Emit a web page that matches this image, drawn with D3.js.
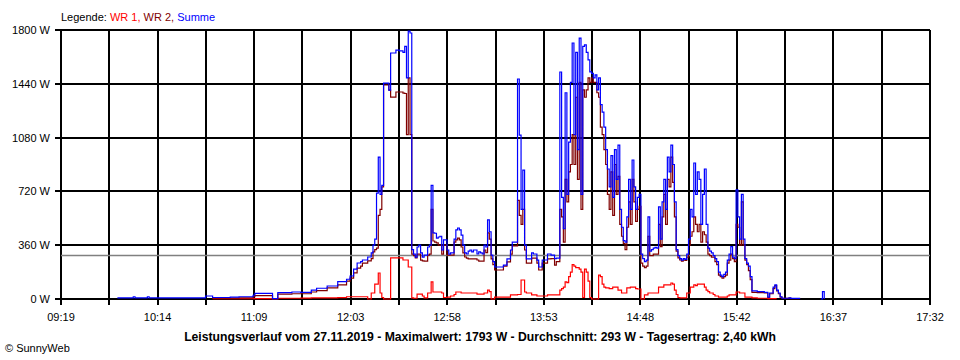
<!DOCTYPE html>
<html>
<head>
<meta charset="utf-8">
<title>Leistungsverlauf</title>
<script src="https://d3js.org/d3.v7.min.js"></script>
<style>
    body { margin: 0; background: #fff; }
    text { font-family: "Liberation Sans", Arial, sans-serif; }
</style>
</head>
<body>
<div id="chart"></div>
<script>
(function () {
    'use strict';

    // readings from the SunnyWeb day chart, one row per change
    var times = [
        '09:51', '10:00', '10:01', '10:08', '10:09', '10:41', '10:45', '10:55', '11:00', '11:08',
        '11:09', '11:19', '11:22', '11:30', '11:35', '11:41', '11:44', '11:50', '11:56', '12:01',
        '12:03', '12:05', '12:07', '12:09', '12:10', '12:13', '12:15', '12:16', '12:17', '12:18',
        '12:19', '12:20', '12:21', '12:22', '12:25', '12:26', '12:29', '12:31', '12:33', '12:34',
        '12:35', '12:36', '12:37', '12:38', '12:39', '12:40', '12:41', '12:42', '12:43', '12:44',
        '12:45', '12:47', '12:48', '12:49', '12:50', '12:51', '12:52', '12:53', '12:54', '12:55',
        '12:56', '12:58', '12:59', '13:00', '13:02', '13:03', '13:04', '13:05', '13:06', '13:07',
        '13:08', '13:09', '13:10', '13:11', '13:12', '13:13', '13:15', '13:16', '13:17', '13:18',
        '13:19', '13:20', '13:21', '13:22', '13:23', '13:24', '13:25', '13:30', '13:32', '13:34',
        '13:35', '13:38', '13:39', '13:40', '13:41', '13:42', '13:43', '13:46', '13:47', '13:49',
        '13:50', '13:52', '13:55', '13:57', '13:59', '14:00', '14:02', '14:03', '14:04', '14:05',
        '14:06', '14:07', '14:08', '14:09', '14:10', '14:11', '14:12', '14:13', '14:14', '14:15',
        '14:16', '14:17', '14:18', '14:19', '14:20', '14:21', '14:22', '14:23', '14:24', '14:25',
        '14:26', '14:27', '14:28', '14:29', '14:30', '14:31', '14:32', '14:33', '14:34', '14:35',
        '14:36', '14:37', '14:38', '14:39', '14:40', '14:41', '14:42', '14:43', '14:44', '14:45',
        '14:46', '14:47', '14:48', '14:49', '14:50', '14:51', '14:52', '14:53', '14:54', '14:55',
        '14:56', '14:57', '14:58', '14:59', '15:00', '15:01', '15:02', '15:03', '15:04', '15:05',
        '15:06', '15:07', '15:08', '15:09', '15:10', '15:11', '15:12', '15:13', '15:14', '15:15',
        '15:16', '15:17', '15:18', '15:19', '15:20', '15:21', '15:22', '15:23', '15:24', '15:25',
        '15:26', '15:27', '15:28', '15:29', '15:30', '15:31', '15:32', '15:33', '15:34', '15:35',
        '15:36', '15:37', '15:38', '15:39', '15:40', '15:41', '15:42', '15:43', '15:44', '15:45',
        '15:46', '15:47', '15:48', '15:49', '15:50', '15:51', '15:54', '15:58', '16:00', '16:01',
        '16:03', '16:04', '16:05', '16:06', '16:07', '16:08', '16:12', '16:13', '16:18', '16:19',
        '16:30', '16:31', '16:32'
    ];

    var summe = [
        7, 15, 7, 15, 7, 20, 10, 12, 15, 25,
        38, 3, 42, 47, 45, 60, 72, 87, 116, 132,
        154, 200, 241, 250, 261, 281, 308, 361, 400, 709,
        950, 700, 760, 1445, 1398, 1646, 1666, 1660, 1650, 1690,
        1480, 1793, 1780, 330, 300, 280, 348, 360, 308, 280,
        294, 348, 360, 760, 442, 440, 408, 415, 420, 328,
        395, 328, 300, 308, 400, 462, 475, 462, 428, 361,
        308, 301, 321, 328, 315, 328, 301, 315, 308, 301,
        361, 348, 529, 450, 294, 250, 214, 227, 268, 328,
        381, 1472, 1097, 600, 862, 361, 268, 308, 301, 260,
        214, 261, 301, 294, 270, 274, 1519, 680, 470, 1380,
        700, 1050, 1450, 1713, 1100, 1650, 1000, 1746, 700, 1690,
        1700, 1650, 1600, 1520, 1510, 1480, 1500, 1400, 1480, 1300,
        1250, 1150, 1000, 870, 750, 960, 680, 1000, 800, 1030,
        600, 480, 390, 380, 550, 800, 600, 930, 750, 600,
        680, 700, 300, 270, 250, 260, 549, 320, 330, 340,
        345, 340, 616, 400, 650, 800, 600, 950, 850, 1030,
        900, 650, 330, 290, 270, 260, 270, 265, 300, 400,
        600, 550, 910, 700, 850, 800, 500, 700, 870, 500,
        340, 320, 308, 290, 270, 250, 180, 160, 150, 165,
        180, 260, 300, 350, 280, 270, 730, 550, 400, 700,
        400, 270, 240, 220, 150, 55, 50, 45, 13, 40,
        80, 95, 60, 40, 15, 5, 8, 4, 0, null,
        0, 50, 0
    ];

    var wr2 = [
        null, null, null, null, null, null, 5, 6, 7, 15,
        22, 0, 33, 35, 35, 47, 56, 74, 94, 120,
        140, 175, 207, 220, 240, 255, 270, 316, 330, 340,
        560, 600, 750, 1432, 1398, 1351, 1385, 1385, 1378, 1375,
        1100, 1480, 1100, 300, 290, 275, 300, 300, 260, 255,
        254, 294, 300, 600, 388, 380, 375, 360, 361, 300,
        361, 294, 294, 294, 380, 395, 408, 395, 348, 308,
        281, 274, 268, 268, 268, 268, 261, 254, 254, 254,
        328, 310, 442, 400, 268, 230, 194, 220, 248, 300,
        355, 660, 560, 500, 600, 328, 240, 274, 274, 240,
        194, 240, 268, 270, 227, 250, 600, 550, 380, 800,
        650, 850, 900, 1100, 900, 1350, 800, 1450, 600, 1400,
        1350, 1400, 1480, 1450, 1480, 1450, 1450, 1380, 1350, 1150,
        1100, 1000, 900, 700, 600, 850, 560, 900, 700, 820,
        500, 420, 370, 330, 480, 650, 500, 800, 650, 520,
        600, 620, 240, 220, 210, 220, 420, 290, 290, 300,
        300, 300, 500, 350, 550, 700, 500, 800, 750, 950,
        780, 550, 320, 275, 261, 254, 261, 258, 280, 360,
        420, 450, 550, 500, 450, 500, 380, 450, 430, 380,
        300, 290, 280, 280, 250, 230, 160, 150, 140, 150,
        160, 240, 260, 300, 270, 250, 500, 480, 360, 650,
        360, 260, 230, 190, 130, 45, 42, 40, 10, 35,
        70, 90, 55, 35, 12, 4, 6, 3, 0, null,
        null, null, null
    ];

    var wr1 = [
        null, null, null, null, null, null, 3, 3, 2, 2,
        2, 0, 5, 5, 6, 7, 7, 7, 9, 15,
        15, 15, 15, 15, 15, 0, 40, 40, 100, 100,
        174, 40, 10, 0, 0, 275, 275, 275, 261, 261,
        261, 214, 214, 7, 5, 5, 33, 33, 33, 20,
        7, 40, 40, 115, 47, 47, 47, 47, 47, 40,
        10, 13, 13, 20, 30, 47, 47, 47, 40, 40,
        40, 40, 40, 40, 40, 40, 33, 33, 33, 33,
        40, 40, 60, 50, 0, 0, 13, 13, 13, 27,
        27, 30, 30, 127, 127, 47, 40, 27, 27, 20,
        20, 20, 27, 27, 27, 27, 60, 70, 80, 114,
        110, 150, 180, 230, 220, 210, 210, 200, 180, 10,
        200, 180, 120, 10, 0, 0, 0, 0, 160, 150,
        100, 80, 75, 75, 70, 70, 80, 80, 80, 60,
        60, 40, 40, 40, 74, 74, 80, 80, 80, 70,
        67, 67, 0, 0, 27, 27, 40, 40, 40, 40,
        40, 40, 80, 80, 80, 94, 94, 94, 94, 107,
        100, 60, 30, 10, 7, 7, 7, 7, 40, 40,
        80, 80, 94, 90, 100, 100, 100, 100, 80, 60,
        50, 40, 40, 30, 20, 20, 13, 13, 13, 13,
        13, 20, 27, 27, 27, 27, 47, 47, 40, 40,
        40, 13, 13, 13, 13, 7, 5, 5, 3, 3,
        2, 2, 2, null, null, null, null, null, null, null,
        null, null, null
    ];

    var tickLabels = ['09:19', '10:14', '11:09', '12:03', '12:58', '13:53', '14:48', '15:42', '16:37', '17:32'];
    var yTicks = [0, 360, 720, 1080, 1440, 1800];
    var average = 293;
    var caption = 'Leistungsverlauf vom 27.11.2019 - Maximalwert: 1793 W - Durchschnitt: 293 W - Tagesertrag: 2,40 kWh';
    var legendItems = [
        { text: 'Legende: ', color: '#000000' },
        { text: 'WR 1, ', color: '#ff0000' },
        { text: 'WR 2, ', color: '#800000' },
        { text: 'Summe', color: '#0000ff' }
    ];

    var width = 960;
    var height = 360;
    var left = 61, right = 930, top = 30, bottom = 299;

    var toMinutes = function (s) {
        var p = s.split(':');
        return (+p[0]) * 60 + (+p[1]);
    };

    var tStart = toMinutes(tickLabels[0]);
    var tEnd = toMinutes(tickLabels[tickLabels.length - 1]);

    var x = d3.scaleLinear().domain([tStart, tEnd]).range([left, right]);
    var y = d3.scaleLinear().domain([0, 1800]).range([bottom, top]);

    var svg = d3.select('#chart').append('svg')
        .attr('width', width)
        .attr('height', height)
        .style('display', 'block');

    svg.append('rect')
        .attr('width', width)
        .attr('height', height)
        .attr('fill', '#fff');

    // grid: one line every half label step
    var gridSteps = (tickLabels.length - 1) * 2;
    var gridTimes = d3.range(gridSteps + 1).map(function (i) {
        return tStart + i * (tEnd - tStart) / gridSteps;
    });

    var grid = svg.append('g')
        .attr('stroke', '#000')
        .attr('stroke-width', 2)
        .attr('shape-rendering', 'crispEdges');

    grid.selectAll('.vline')
        .data(gridTimes)
        .enter()
        .append('line')
        .attr('class', 'vline')
        .attr('x1', function (d) { return Math.round(x(d)); })
        .attr('x2', function (d) { return Math.round(x(d)); })
        .attr('y1', top)
        .attr('y2', bottom + 6);

    grid.selectAll('.hline')
        .data(yTicks)
        .enter()
        .append('line')
        .attr('class', 'hline')
        .attr('x1', left - 6)
        .attr('x2', right)
        .attr('y1', function (d) { return Math.round(y(d)); })
        .attr('y2', function (d) { return Math.round(y(d)); });

    svg.append('line')
        .attr('x1', left)
        .attr('x2', right)
        .attr('y1', Math.round(y(average)) + 0.5)
        .attr('y2', Math.round(y(average)) + 0.5)
        .attr('stroke', '#808080')
        .attr('stroke-width', 1.5);

    svg.selectAll('.ylabel')
        .data(yTicks)
        .enter()
        .append('text')
        .attr('class', 'ylabel')
        .attr('x', left - 11)
        .attr('y', function (d) { return y(d) + 4; })
        .attr('text-anchor', 'end')
        .attr('font-size', '11px')
        .text(function (d) { return d + ' W'; });

    svg.selectAll('.xlabel')
        .data(tickLabels)
        .enter()
        .append('text')
        .attr('class', 'xlabel')
        .attr('x', function (d, i) { return x(gridTimes[i * 2]); })
        .attr('y', 321)
        .attr('text-anchor', 'middle')
        .attr('font-size', '11px')
        .text(function (d) { return d; });

    var rows = times.map(function (t, i) {
        return { t: toMinutes(t), wr1: wr1[i], wr2: wr2[i], summe: summe[i] };
    });

    var series = [
        { key: 'wr1', color: '#ff0000' },
        { key: 'wr2', color: '#800000' },
        { key: 'summe', color: '#0000ff' }
    ];

    series.forEach(function (s) {
        var line = d3.line()
            .defined(function (d) { return d[s.key] != null; })
            .x(function (d) { return x(d.t); })
            .y(function (d) { return y(d[s.key]); })
            .curve(d3.curveStepAfter);

        svg.append('path')
            .datum(rows)
            .attr('fill', 'none')
            .attr('stroke', s.color)
            .attr('stroke-width', 1.2)
            .attr('d', line);
    });

    var legend = svg.append('text')
        .attr('x', left)
        .attr('y', 21)
        .attr('font-size', '11px');

    legend.selectAll('tspan')
        .data(legendItems)
        .enter()
        .append('tspan')
        .attr('fill', function (d) { return d.color; })
        .style('white-space', 'pre')
        .text(function (d) { return d.text; });

    svg.append('text')
        .attr('x', 480)
        .attr('y', 341)
        .attr('text-anchor', 'middle')
        .attr('font-size', '12.2px')
        .attr('font-weight', 'bold')
        .text(caption);

    svg.append('text')
        .attr('x', 5)
        .attr('y', 352)
        .attr('font-size', '11px')
        .text('\u00a9 SunnyWeb');
})();
</script>
</body>
</html>
